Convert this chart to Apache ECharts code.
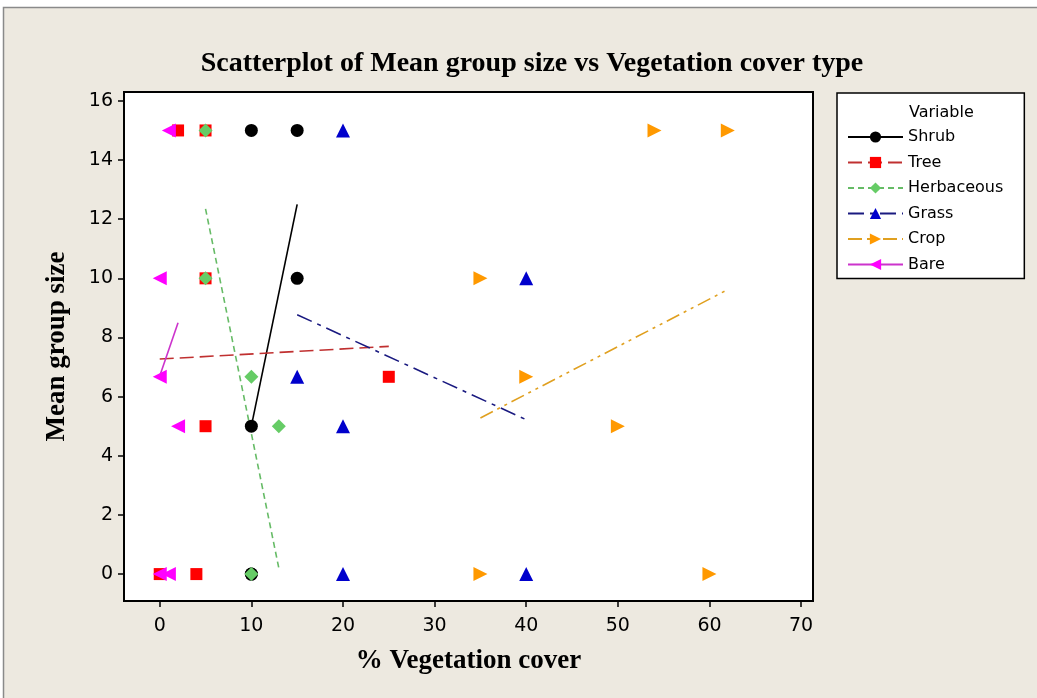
<!DOCTYPE html>
<html><head><meta charset="utf-8">
<script src="https://cdn.jsdelivr.net/npm/echarts@6/dist/echarts.min.js"></script>
<style>html,body{margin:0;padding:0;background:#fff}#c{width:1037px;height:698px}</style>
</head><body><div id="c"></div>
<script>
// ---- data ----
const xTicks = [0, 10, 20, 30, 40, 50, 60, 70];
const yTicks = [0, 2, 4, 6, 8, 10, 12, 14, 16];
const variables = ['Shrub', 'Tree', 'Herbaceous', 'Grass', 'Crop', 'Bare'];

const shrubX = [10, 15, 15, 10, 10, 10];
const shrubY = [15, 15, 10, 5, 0, 0];
const treeX = [2, 5, 5, 5, 4, 0, 25];
const treeY = [15, 15, 10, 5, 0, 0, 6.67];
const herbX = [5, 5, 10, 13, 10];
const herbY = [15, 10, 6.67, 5, 0];
const grassX = [20, 40, 15, 20, 20, 40];
const grassY = [15, 10, 6.67, 5, 0, 0];
const cropX = [54, 62, 35, 40, 50, 35, 60];
const cropY = [15, 15, 10, 6.67, 5, 0, 0];
const bareX = [1, 0, 0, 2, 0, 1];
const bareY = [15, 10, 6.67, 5, 0, 0];

// fitted regression lines (end points)
const shrubFitX = [10, 15];   const shrubFitY = [5, 12.5];
const treeFitX = [0, 25];     const treeFitY = [7.27, 7.70];
const herbFitX = [5, 13];     const herbFitY = [12.35, 0.2];
const grassFitX = [15, 40];   const grassFitY = [8.77, 5.22];
const cropFitX = [35, 62];    const cropFitY = [5.28, 9.62];
const bareFitX = [0, 2];      const bareFitY = [6.7, 8.5];

// ---- styles ----
const pts = [[shrubX, shrubY], [treeX, treeY], [herbX, herbY], [grassX, grassY], [cropX, cropY], [bareX, bareY]];
const fits = [[shrubFitX, shrubFitY], [treeFitX, treeFitY], [herbFitX, herbFitY], [grassFitX, grassFitY], [cropFitX, cropFitY], [bareFitX, bareFitY]];
const markerColors = ['#000000', '#FF0000', '#66CC66', '#0000CC', '#FF9900', '#FF00FF'];
const lineColors = ['#000000', '#C03030', '#66BB66', '#1A1A80', '#E0A020', '#CC33CC'];
const lineTypes = ['solid', [14, 6], [6, 4], [16, 6, 4, 6], [14, 5, 3, 5, 3, 5], 'solid'];
const symbols = ['circle', 'rect', 'diamond', 'triangle', 'triangle', 'triangle'];
const symbolRot = [0, 0, 0, 0, -90, 90];
const symbolSizes = [13, 12, 14, 14, 14, 14];

const zip = (xs, ys) => xs.map((x, i) => [x, ys[i]]);

const series = [];
variables.forEach((name, i) => {
  series.push({
    type: 'line', name, data: zip(fits[i][0], fits[i][1]),
    symbol: symbols[i], symbolRotate: symbolRot[i], showSymbol: false,
    lineStyle: { color: lineColors[i], width: 1.6, type: lineTypes[i] },
    itemStyle: { color: markerColors[i] },
    silent: true, animation: false, z: 2
  });
});
variables.forEach((name, i) => {
  series.push({
    type: 'scatter', name, data: zip(pts[i][0], pts[i][1]),
    symbol: symbols[i], symbolRotate: symbolRot[i], symbolSize: symbolSizes[i],
    itemStyle: { color: markerColors[i], opacity: 1 },
    animation: false, z: 3
  });
});

const chart = echarts.init(document.getElementById('c'), null, { renderer: 'canvas' });
chart.setOption({
  backgroundColor: '#ffffff',
  animation: false,
  graphic: [{
    type: 'rect', z: -10, silent: true,
    shape: { x: 3.5, y: 7.5, width: 1040, height: 700 },
    style: { fill: '#EDE9E0', stroke: '#8a8a8a', lineWidth: 1.5 }
  }],
  title: [{
    text: 'Scatterplot of Mean group size vs Vegetation cover type',
    left: 527, top: 45, textAlign: 'center',
    textStyle: { fontFamily: 'Liberation Serif', fontWeight: 'bold', fontSize: 28, color: '#000' }
  }, {
    text: 'Variable', left: 904, top: 100,
    textStyle: { fontFamily: 'DejaVu Sans', fontWeight: 'normal', fontSize: 16, color: '#000' }
  }],
  legend: {
    data: variables,
    orient: 'vertical',
    left: 837, top: 93,
    padding: [36, 21, 6, 10],
    itemWidth: 55, itemHeight: 14, itemGap: 9.5,
    backgroundColor: '#ffffff', borderColor: '#000', borderWidth: 1.5, borderRadius: 0,
    textStyle: { fontFamily: 'DejaVu Sans', fontSize: 16, color: '#000' },
    selectedMode: false
  },
  grid: {
    left: 124, top: 92, width: 689, height: 509,
    show: true, backgroundColor: '#ffffff', borderColor: '#000', borderWidth: 2
  },
  xAxis: {
    type: 'value', min: -3.9, max: 71.3,
    name: '% Vegetation cover', nameLocation: 'middle', nameGap: 47,
    nameTextStyle: { fontFamily: 'Liberation Serif', fontWeight: 'bold', fontSize: 27, color: '#000' },
    axisLine: { show: false, onZero: false },
    axisTick: { show: true, length: 6, customValues: xTicks, lineStyle: { color: '#000', width: 1.5 } },
    axisLabel: { customValues: xTicks, margin: 16, fontFamily: 'DejaVu Sans', fontSize: 19, color: '#000' },
    splitLine: { show: false }
  },
  yAxis: {
    type: 'value', min: -0.91, max: 16.3,
    name: 'Mean group size', nameLocation: 'middle', nameGap: 53,
    nameTextStyle: { fontFamily: 'Liberation Serif', fontWeight: 'bold', fontSize: 27, color: '#000' },
    axisLine: { show: false, onZero: false },
    axisTick: { show: true, length: 6, customValues: yTicks, lineStyle: { color: '#000', width: 1.5 } },
    axisLabel: { customValues: yTicks, margin: 11, fontFamily: 'DejaVu Sans', fontSize: 19, color: '#000' },
    splitLine: { show: false }
  },
  series
});
</script></body></html>
